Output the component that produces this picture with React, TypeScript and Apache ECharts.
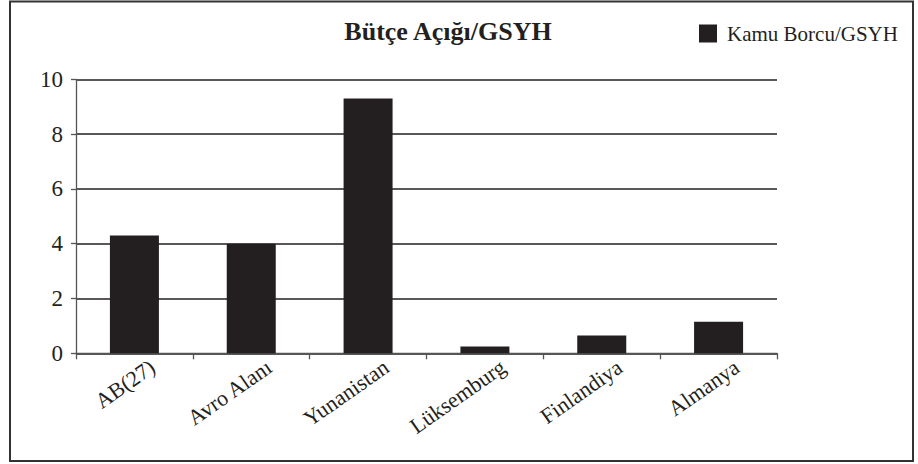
import React, { useEffect, useRef } from "react";
import * as echarts from "echarts";

const categories = ["AB(27)", "Avro Alanı", "Yunanistan", "Lüksemburg", "Finlandiya", "Almanya"];
const values = [4.3, 4.0, 9.3, 0.25, 0.65, 1.15];
const seriesName = "Kamu Borcu/GSYH";
const titleText = "Bütçe Açığı/GSYH";

const FONT = "Liberation Serif";
const INK = "#231f20";

export default function App() {
  const ref = useRef<HTMLDivElement>(null);
  useEffect(() => {
    if (!ref.current) return;
    const chart = echarts.init(ref.current, null, { renderer: "svg" });
    chart.setOption({
      animation: false,
      backgroundColor: "#ffffff",
      textStyle: { fontFamily: FONT, color: INK },
      title: {
        text: titleText,
        left: 448,
        top: 18,
        padding: 0,
        textAlign: "center",
        textStyle: { fontFamily: FONT, fontSize: 26, fontWeight: "bold", color: INK },
      },
      legend: {
        left: 699,
        top: 23,
        padding: 0,
        icon: "rect",
        itemWidth: 18,
        itemHeight: 18,
        textStyle: { fontFamily: FONT, fontSize: 21, color: INK, padding: [0, 0, 0, 5] },
        data: [seriesName],
      },
      grid: { left: 76, top: 79.3, right: 141, bottom: 110.7, containLabel: false },
      xAxis: {
        type: "category",
        data: categories,
        axisLine: { lineStyle: { color: "#555", width: 1.3 } },
        axisTick: { show: true, length: 6, lineStyle: { color: "#555", width: 1.3 } },
        axisLabel: {
          interval: 0,
          rotate: 35,
          margin: 24,
          padding: [0, -22, 0, 0],
          fontFamily: FONT,
          fontSize: 22,
          color: INK,
        },
      },
      yAxis: {
        type: "value",
        min: 0,
        max: 10,
        interval: 2,
        axisLine: { show: true, lineStyle: { color: "#555", width: 1.3 } },
        axisTick: { show: true, length: 5, lineStyle: { color: "#555", width: 1.3 } },
        axisLabel: { margin: 13, fontFamily: FONT, fontSize: 23, color: INK },
        splitLine: { show: true, lineStyle: { color: INK, width: 1.5 } },
      },
      series: [
        {
          name: seriesName,
          type: "bar",
          data: values,
          barWidth: 49,
          itemStyle: { color: INK },
        },
      ],
      graphic: [
        {
          type: "rect",
          shape: { x: 10, y: 1.5, width: 903, height: 459.5 },
          style: { fill: "none", stroke: "#333", lineWidth: 2 },
          silent: true,
          z: 100,
        },
      ],
    });
    return () => chart.dispose();
  }, []);
  return (
    <div
      ref={ref}
      style={{ position: "absolute", left: 0, top: 0, width: 918, height: 464 }}
    />
  );
}
